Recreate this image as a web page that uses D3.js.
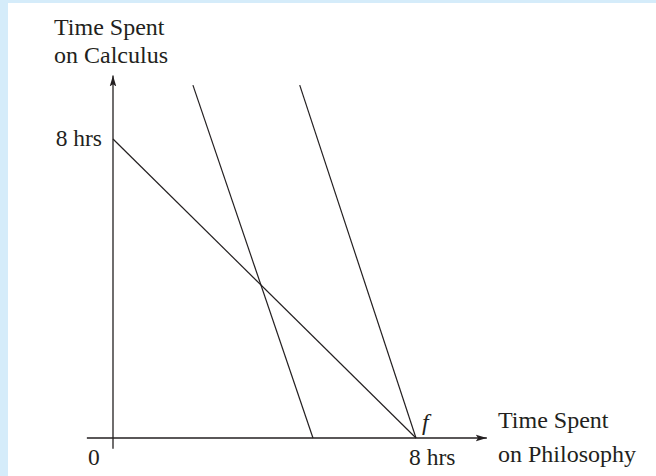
<!DOCTYPE html>
<html><head><meta charset="utf-8">
<script src="https://cdn.jsdelivr.net/npm/d3@7"></script>
<style>body{margin:0;background:#fff}svg{display:block}</style>
</head><body>
<script>
// Data (hours)
const axisXRange = [-0.69, 9.87];
const axisYRange = [-0.29, 9.7];
const budgetLine = [[0, 8], [8, 0]];
const indiff1 = [[2.11, 9.44], [5.28, 0]];
const indiff2 = [[4.93, 9.44], [8, 0]];
const yTickLabels = [{v: 8, t: "8 hrs"}];
const xTickLabels = [{v: 0, t: "0"}, {v: 8, t: "8 hrs"}];
const yTitle = ["Time Spent", "on Calculus"];
const xTitle = ["Time Spent", "on Philosophy"];

const W = 656, H = 476;
const svg = d3.select("body").append("svg").attr("width", W).attr("height", H);
svg.append("rect").attr("width", W).attr("height", H).attr("fill", "#d5ecfa");
svg.append("rect").attr("x", 8).attr("y", 3).attr("width", W - 8).attr("height", H - 3).attr("fill", "#fff");

const x = d3.scaleLinear().domain([0, 8]).range([113, 416]);
const y = d3.scaleLinear().domain([0, 8]).range([438, 139]);
const ink = "#231f20";
const font = "'Liberation Serif','Times New Roman',serif";

const defs = svg.append("defs");
defs.append("marker").attr("id", "arr").attr("viewBox", "0 0 10 10")
  .attr("refX", 10).attr("refY", 5).attr("markerWidth", 11).attr("markerHeight", 11)
  .attr("markerUnits", "userSpaceOnUse").attr("orient", "auto")
  .append("path").attr("d", "M0,2 L10,5 L0,8 L2,5 Z").attr("fill", ink);

const line = d3.line().x(d => x(d[0])).y(d => y(d[1]));

// axes
svg.append("path").attr("d", line([[axisXRange[0], 0], [axisXRange[1], 0]]))
  .attr("stroke", ink).attr("stroke-width", 1.3).attr("fill", "none").attr("marker-end", "url(#arr)");
svg.append("path").attr("d", line([[0, axisYRange[0]], [0, axisYRange[1]]]))
  .attr("stroke", ink).attr("stroke-width", 1.3).attr("fill", "none").attr("marker-end", "url(#arr)");

// lines
[budgetLine, indiff1, indiff2].forEach(l => {
  svg.append("path").attr("d", line(l)).attr("stroke", ink).attr("stroke-width", 1.2).attr("fill", "none");
});

// tick labels
svg.selectAll(".yt").data(yTickLabels).enter().append("text")
  .attr("x", x(0) - 11).attr("y", d => y(d.v) + 7).attr("text-anchor", "end")
  .attr("font-family", font).attr("font-size", 23.5).attr("fill", ink).text(d => d.t);
svg.selectAll(".xt").data(xTickLabels).enter().append("text")
  .attr("x", d => d.v === 0 ? x(d.v) - 25 : x(d.v) - 7).attr("y", y(0) + 27)
  .attr("text-anchor", "start")
  .attr("font-family", font).attr("font-size", 23.5).attr("fill", ink).text(d => d.t);

// f label
svg.append("text").attr("x", x(8) + 6).attr("y", y(0) - 8)
  .attr("font-family", font).attr("font-style", "italic").attr("font-size", 24).attr("fill", ink).text("f");

// titles
svg.append("text").attr("font-family", font).attr("font-size", 24).attr("fill", ink)
  .selectAll("tspan").data(yTitle).enter().append("tspan")
  .attr("x", 54).attr("y", (d, i) => 35 + i * 28).text(d => d);
svg.append("text").attr("font-family", font).attr("font-size", 24).attr("fill", ink)
  .selectAll("tspan").data(xTitle).enter().append("tspan")
  .attr("x", 498).attr("y", (d, i) => 428 + i * 34).text(d => d);
</script>
</body></html>
